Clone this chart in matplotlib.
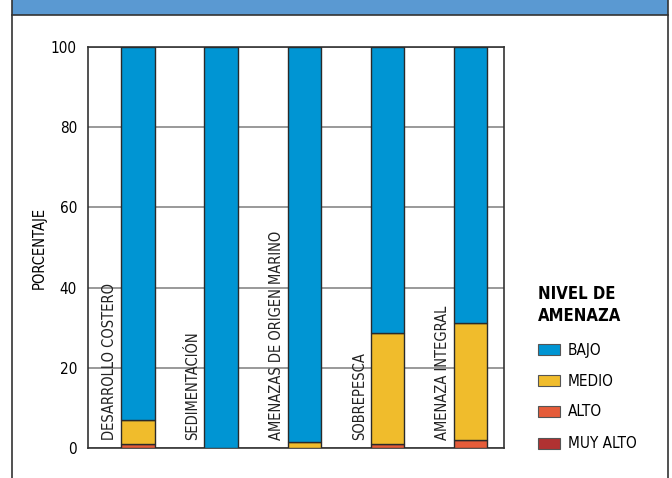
import matplotlib
matplotlib.use("Agg")
import matplotlib.pyplot as plt
from matplotlib.patches import Rectangle
from matplotlib.lines import Line2D
import numpy as np

plt.rcParams['font.family'] = ['DejaVu Sans']
plt.rcParams['font.stretch'] = 'condensed'

categories = ["DESARROLLO COSTERO", "SEDIMENTACIÓN", "AMENAZAS DE ORIGEN MARINO",
              "SOBREPESCA", "AMENAZA INTEGRAL"]
muy_alto = [0.0, 0.0, 0.0, 0.0, 0.0]
alto = [1.0, 0.0, 0.0, 1.0, 2.0]
medio = [6.0, 0.0, 1.5, 27.8, 29.2]
bajo = [93.0, 100.0, 98.5, 71.2, 68.8]
levels = ["BAJO", "MEDIO", "ALTO", "MUY ALTO"]
colors = {"BAJO": "#0095D3", "MEDIO": "#F0BC2C", "ALTO": "#E55C3A", "MUY ALTO": "#B03232"}
yticks = [0, 20, 40, 60, 80, 100]

fig = plt.figure(figsize=(6.72, 4.78), dpi=100)
W, H = 672, 478

fig.patches.append(Rectangle((12 / W, 1 - 15 / H), 656 / W, 15 / H, transform=fig.transFigure,
                             facecolor="#5A99D2", edgecolor="none", zorder=0))
fig.lines.append(Line2D([12 / W, 668 / W], [1 - 15 / H, 1 - 15 / H], transform=fig.transFigure,
                        color="#333333", lw=1.2))
fig.lines.append(Line2D([12 / W, 12 / W], [0, 1], transform=fig.transFigure, color="#333333", lw=1.2))
fig.lines.append(Line2D([668 / W, 668 / W], [0, 1], transform=fig.transFigure, color="#333333", lw=1.2))

ax = fig.add_axes([88 / W, 30 / H, 416 / W, 401 / H])
x = np.arange(len(categories))
bw = 0.40
bx = x + 0.1
bottoms = np.zeros(len(categories))
for name, vals in zip(["MUY ALTO", "ALTO", "MEDIO", "BAJO"], [muy_alto, alto, medio, bajo]):
    vals = np.array(vals)
    ax.bar(bx, vals, bw, bottom=bottoms, color=colors[name], edgecolor="#2a2a2a", linewidth=1.0, zorder=3)
    bottoms += vals

ax.set_xlim(-0.5, len(categories) - 0.5)
ax.set_ylim(0, 100)
ax.set_yticks(yticks)
ax.set_yticklabels([str(t) for t in yticks], fontsize=11)
ax.set_xticks([])
ax.tick_params(axis='y', length=0, pad=8)
ax.yaxis.grid(True, color="#888888", lw=1.2, zorder=0)
for s in ax.spines.values():
    s.set_color("#333333")
    s.set_linewidth(1.2)
ax.set_ylabel("PORCENTAJE", fontsize=10.5, labelpad=3)

for i, c in enumerate(categories):
    ax.text(i - 0.24, 2, c, rotation=90, ha="center", va="bottom", fontsize=10.5, color="#222222", zorder=4)

fig.text(538 / W, 1 - 285 / H, "NIVEL DE\nAMENAZA", fontsize=12, fontweight="bold",
         ha="left", va="top", linespacing=1.3)
ys = [350, 381, 412, 444]
for name, yy in zip(levels, ys):
    fig.patches.append(Rectangle((538 / W, 1 - (yy + 5) / H), 22 / W, 11 / H, transform=fig.transFigure,
                                 facecolor=colors[name], edgecolor="#555555", lw=0.8))
    fig.text(568 / W, 1 - yy / H, name, fontsize=11, ha="left", va="center")

fig.savefig("out.png", dpi=100)
